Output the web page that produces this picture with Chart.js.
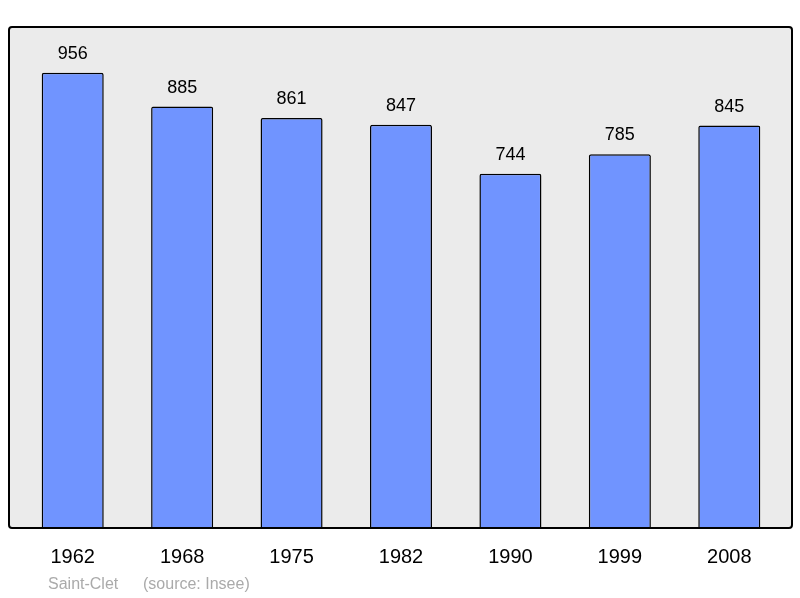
<!DOCTYPE html>
<html><head><meta charset="utf-8">
<script src="https://cdn.jsdelivr.net/npm/chart.js@4/dist/chart.umd.min.js"></script>
<style>html,body{margin:0;padding:0;background:#fff}#w{width:800px;height:598px}</style>
</head><body><div id="w"><canvas id="c"></canvas></div>
<script>
const years = ["1962","1968","1975","1982","1990","1999","2008"];
const population = [956,885,861,847,744,785,845];
const footerName = "Saint-Clet";
const footerSource = "(source: Insee)";

function box(ch){const a=ch.chartArea;return {l:a.left-9,t:a.top,w:(a.right+8)-(a.left-9),h:a.bottom-a.top};}
const deco = {
  id:'deco',
  beforeDatasetsDraw(ch){
    const {ctx}=ch;const b=box(ch);
    ctx.save();
    ctx.fillStyle='#ebebeb';
    ctx.beginPath();ctx.roundRect(b.l,b.t,b.w,b.h,3);ctx.fill();
    ctx.restore();
  },
  afterDatasetsDraw(ch){
    const {ctx,scales:{x,y}}=ch;const b=box(ch);
    ctx.save();
    ctx.strokeStyle='#000';ctx.lineWidth=2;
    ctx.beginPath();ctx.roundRect(b.l,b.t,b.w,b.h,3);ctx.stroke();
    ctx.fillStyle='#000';ctx.textAlign='center';ctx.textBaseline='alphabetic';
    ctx.font='18px "Liberation Sans", Arial, sans-serif';
    population.forEach((v,i)=>{ctx.fillText(String(v),x.getPixelForValue(i),y.getPixelForValue(v)-14);});
    ctx.font='20px "Liberation Sans", Arial, sans-serif';
    years.forEach((t,i)=>{ctx.fillText(t,x.getPixelForValue(i),563);});
    ctx.fillStyle='#aaaaaa';ctx.textAlign='left';
    ctx.font='16px "Liberation Sans", Arial, sans-serif';
    ctx.fillText(footerName,48,589);
    ctx.fillText(footerSource,143,589);
    ctx.restore();
  }
};

new Chart(document.getElementById('c'),{
  type:'bar',
  data:{labels:years,datasets:[{data:population,backgroundColor:'#7094ff',borderColor:'#000',borderWidth:1.5,borderRadius:2,borderSkipped:'bottom',barPercentage:0.567,categoryPercentage:1}]},
  options:{
    responsive:true,maintainAspectRatio:false,animation:false,
    layout:{padding:{left:18,right:16,top:27,bottom:70}},
    plugins:{legend:{display:false},tooltip:{enabled:false}},
    scales:{
      x:{display:false,offset:true},
      y:{display:false,min:0,max:1052}
    }
  },
  plugins:[deco]
});
</script></body></html>
